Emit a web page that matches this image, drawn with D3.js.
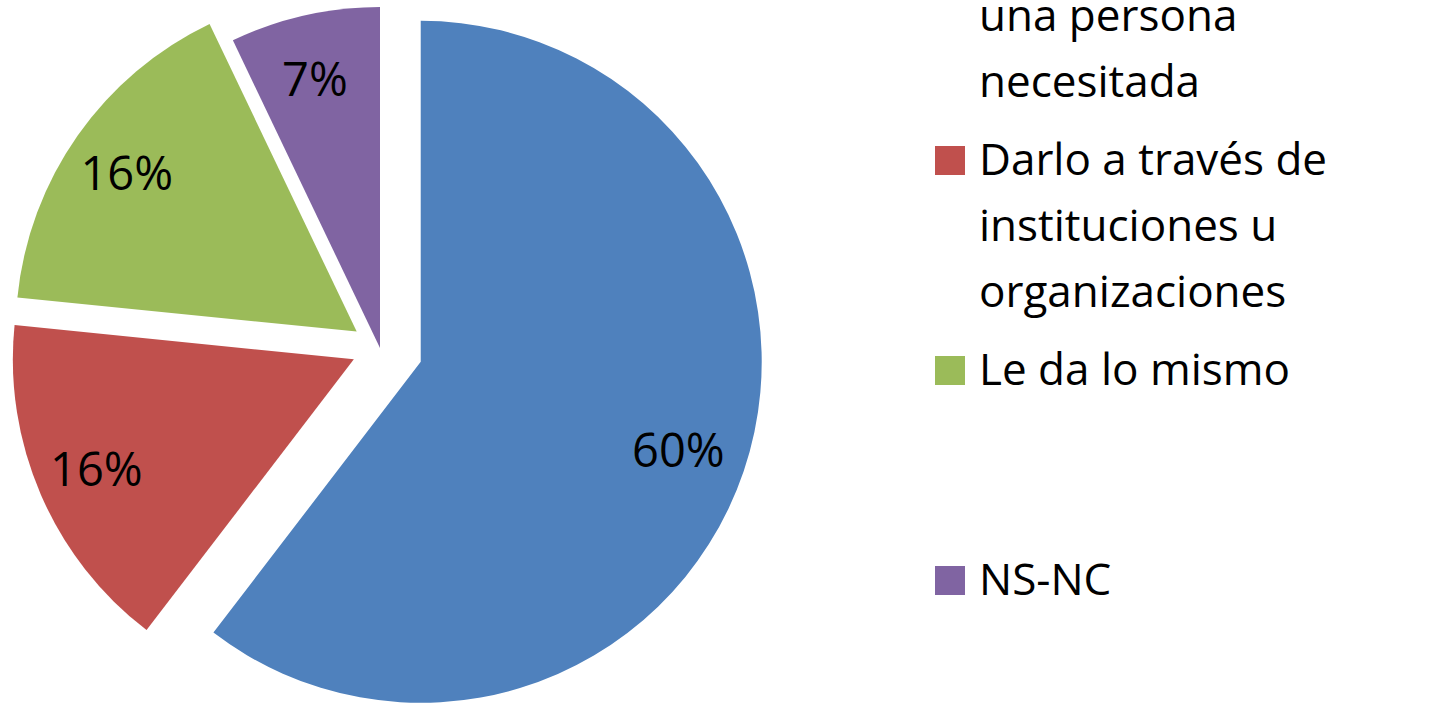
<!DOCTYPE html>
<html>
<head>
<meta charset="utf-8">
<script src="https://cdn.jsdelivr.net/npm/d3@7"></script>
<style>
  body { margin: 0; background: #fff; }
  svg { display: block; }
</style>
</head>
<body>
<div id="chart"></div>
<script>
// Data
const categories = [
  ["Darlo directamente a", "una persona", "necesitada"],
  ["Darlo a través de", "instituciones u", "organizaciones"],
  ["Le da lo mismo"],
  ["NS-NC"]
];
const values = [60.4, 16.2, 16.3, 7.1];
const colors = ["#4F81BD", "#C0504D", "#9BBB59", "#8064A2"];

const width = 1453, height = 708;
const cx = 380, cy = 348, radius = 341;
const explode = [43, 28.5, 28.5, 0]; // distance each slice is pulled out

const svg = d3.select("#chart")
  .append("svg")
  .attr("width", width)
  .attr("height", height)
  .style("font-family", "'Open Sans', sans-serif");

const total = d3.sum(values);
const pie = d3.pie().sort(null).value(d => d)(values);
const arc = d3.arc().innerRadius(0).outerRadius(radius);
const labelArc = d3.arc().innerRadius(radius * 0.81).outerRadius(radius * 0.81);

const g = svg.append("g").attr("transform", "translate(" + cx + "," + cy + ")");

// Slices, each moved out along its bisector
const slice = g.selectAll(".slice")
  .data(pie)
  .enter().append("g")
  .attr("class", "slice")
  .attr("transform", (d, i) => {
    const a = (d.startAngle + d.endAngle) / 2;
    return "translate(" + (Math.sin(a) * explode[i]) + "," + (-Math.cos(a) * explode[i]) + ")";
  });

slice.append("path")
  .attr("d", arc)
  .attr("fill", (d, i) => colors[i]);

slice.append("text")
  .attr("transform", d => "translate(" + labelArc.centroid(d) + ")")
  .attr("text-anchor", "middle")
  .attr("dx", -4)
  .attr("dy", "0.36em")
  .style("font-size", "47px")
  .attr("fill", "#000")
  .text(d => Math.round(d.value / total * 100) + "%");

// Legend
const legend = svg.selectAll(".legend")
  .data(categories)
  .enter().append("g")
  .attr("class", "legend")
  .attr("transform", (d, i) => "translate(935," + (-35 + i * 210) + ")");

legend.append("rect")
  .attr("x", 0)
  .attr("y", -29)
  .attr("width", 30)
  .attr("height", 29)
  .attr("fill", (d, i) => colors[i]);

legend.append("text")
  .attr("x", 44)
  .attr("y", 0)
  .style("font-size", "44px")
  .attr("fill", "#000")
  .selectAll("tspan")
  .data(d => d)
  .enter().append("tspan")
  .attr("x", 44)
  .attr("dy", (d, i) => i === 0 ? 0 : 66)
  .text(d => d);
</script>
</body>
</html>
